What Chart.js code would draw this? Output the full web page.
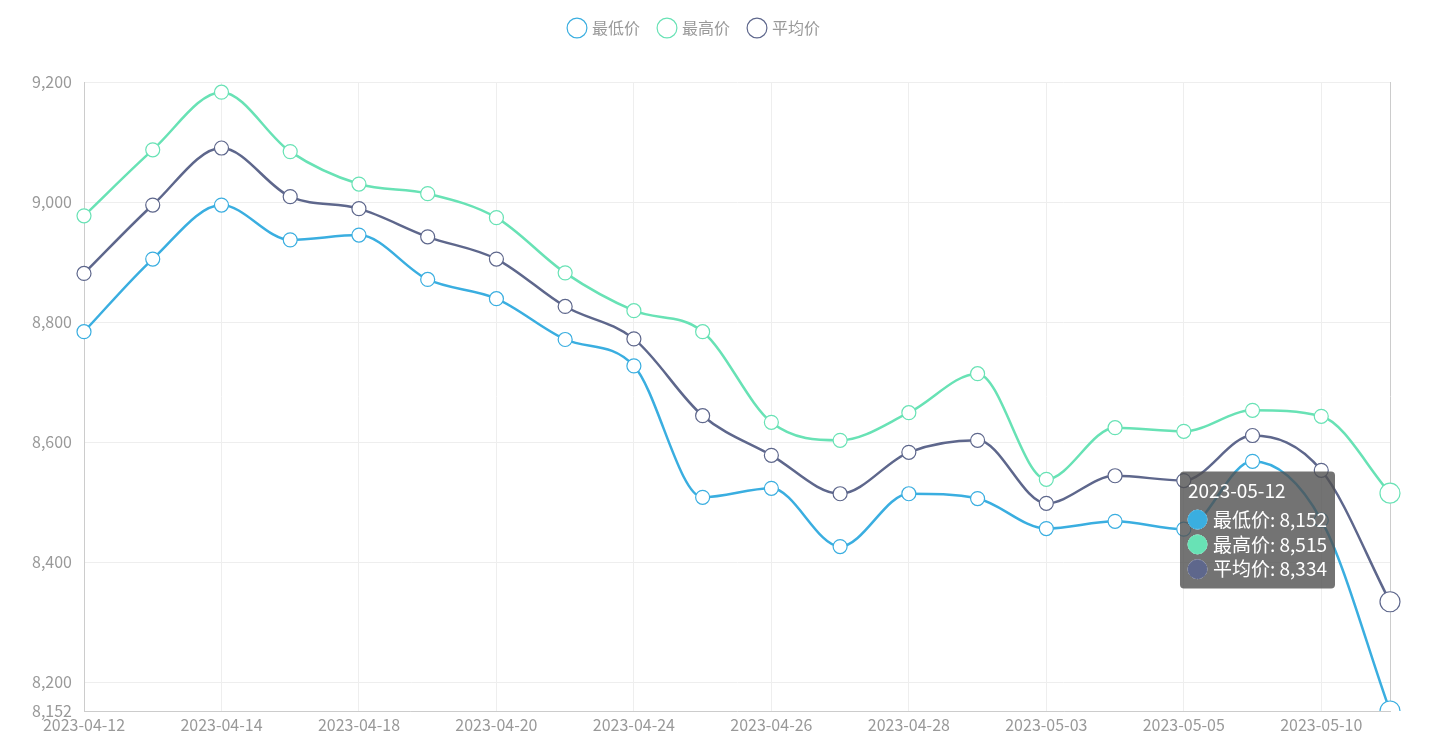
<!DOCTYPE html>
<html><head><meta charset="utf-8">
<script src="https://cdn.jsdelivr.net/npm/chart.js@4"></script>
<style>html,body{margin:0;padding:0;background:#fff}#w{width:1442px;height:741px}</style>
</head><body><div id="w"><canvas id="c"></canvas></div>
<script>
const categories=["2023-04-12","2023-04-13","2023-04-14","2023-04-17","2023-04-18","2023-04-19","2023-04-20","2023-04-21","2023-04-24","2023-04-25","2023-04-26","2023-04-27","2023-04-28","2023-05-02","2023-05-03","2023-05-04","2023-05-05","2023-05-09","2023-05-10","2023-05-12"];
const lowPrice=[8784,8905,8995,8937,8945,8871,8839,8771,8727,8508,8523,8426,8514,8506,8456,8468,8455,8568,8470,8152];
const highPrice=[8977,9087,9183,9084,9030,9014,8974,8882,8819,8784,8633,8603,8649,8714,8538,8624,8618,8653,8643,8515];
const avgPrice=[8881,8995,9090,9009,8989,8942,8905,8826,8772,8644,8578,8514,8583,8603,8498,8544,8536,8611,8553,8334];
const yTicks=[8152,8200,8400,8600,8800,9000,9200];
const font="'Microsoft YaHei','Noto Sans CJK SC',sans-serif";
function ds(label,data,color){return{label,data,borderColor:color,backgroundColor:'#fff',borderWidth:2.5,tension:0.4,cubicInterpolationMode:'monotone',pointRadius:data.map((v,i)=>i===data.length-1?10:7),pointHoverRadius:10,pointBorderWidth:1.2,pointBackgroundColor:'#fff',pointBorderColor:color};}
Chart.Tooltip.positioners.fixed=function(){return{x:1337,y:530};};
const chart=new Chart(document.getElementById('c'),{type:'line',
data:{labels:categories,datasets:[ds('最低价',lowPrice,'#3aaee0'),ds('最高价',highPrice,'#68e2b5'),ds('平均价',avgPrice,'#5e678c')]},
options:{responsive:true,maintainAspectRatio:false,animation:false,events:[],
layout:{padding:{left:0,right:52,top:0,bottom:0}},
plugins:{legend:{labels:{usePointStyle:true,pointStyle:'circle',color:'#999',font:{family:font,size:16},boxWidth:14,boxHeight:14,padding:20},
 afterFit(){} },
 tooltip:{enabled:true,position:'fixed',xAlign:'right',yAlign:'center',caretSize:0,backgroundColor:'rgba(80,80,80,0.8)',titleFont:{family:font,size:19,weight:'normal'},bodyFont:{family:font,size:19},padding:{left:8,right:8,top:8,bottom:8},cornerRadius:4,usePointStyle:true,boxPadding:4,
 callbacks:{labelPointStyle:()=>({pointStyle:'circle',rotation:0}),labelColor:(c)=>({borderColor:c.dataset.borderColor,backgroundColor:c.dataset.borderColor})}}},
scales:{
 x:{offset:false,grid:{color:(c)=>c.index===19?'#ccc':(c.index%2===0?'#eee':'rgba(0,0,0,0)'),drawTicks:false},border:{color:'#ccc'},
  ticks:{autoSkip:false,maxRotation:0,color:'#999',font:{family:font,size:16},padding:4,callback:function(v,i){return i%2===0?this.getLabelForValue(v):'';}},
  afterFit(s){s.height=30;}},
 y:{min:8152,max:9200,afterBuildTicks(a){a.ticks=yTicks.map(v=>({value:v}));},
  grid:{color:'#eee',drawTicks:false},border:{color:'#ccc'},
  ticks:{color:'#999',font:{family:font,size:16},padding:12,callback:(v)=>v.toLocaleString('en-US')},
  afterFit(s){s.width=84;}}
}},
plugins:[{id:'pad',beforeLayout(c){c.legend.options.labels.padding=20;},afterInit(c){const l=c.legend;const f=l.fit;l.fit=function(){f.call(this);this.height=82;};}}]
});
const n=categories.length-1;
chart.tooltip.setActiveElements([{datasetIndex:0,index:n},{datasetIndex:1,index:n},{datasetIndex:2,index:n}],{x:1337,y:530});
chart.update();
</script></body></html>
